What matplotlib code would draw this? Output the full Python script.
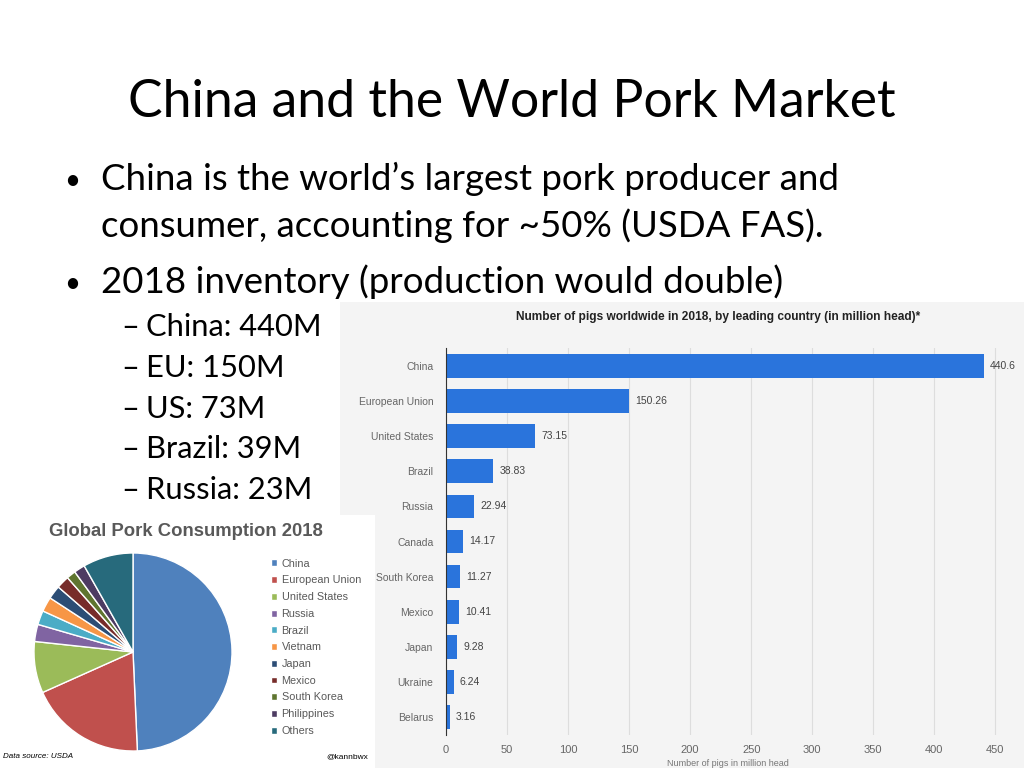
import numpy as np
import matplotlib.pyplot as plt
from matplotlib.patches import Rectangle

# bar chart data (million head)
countries = ["China", "European Union", "United States", "Brazil", "Russia",
             "Canada", "South Korea", "Mexico", "Japan", "Ukraine", "Belarus"]
pigs = [440.6, 150.26, 73.15, 38.83, 22.94, 14.17, 11.27, 10.41, 9.28, 6.24, 3.16]

# pie chart data (share of consumption, %)
pie_labels = ["China", "European Union", "United States", "Russia", "Brazil",
              "Vietnam", "Japan", "Mexico", "South Korea", "Philippines", "Others"]
pie_share = [49.3, 19.0, 8.4, 2.8, 2.3, 2.4, 2.2, 2.1, 1.5, 1.8, 8.2]
pie_colors = ["#4F81BD", "#C0504D", "#9BBB59", "#8064A2", "#4BACC6", "#F79646",
              "#2C4D75", "#772C2A", "#5F7530", "#4D3B62", "#276A7C"]

W, H = 1024, 768
def fx(x): return x / W
def fy(y): return 1 - y / H

fig = plt.figure(figsize=(10.24, 7.68), dpi=100)
fig.patch.set_facecolor("white")

# slide text
slide_font = "Lato"
fig.text(fx(512), fy(117), "China and the World Pork Market", ha="center", va="baseline",
         fontsize=37.3, family=slide_font, color="black")
bullets = [(190, "China is the world\u2019s largest pork producer and", True),
           (237, "consumer, accounting for ~50% (USDA FAS).", False),
           (293, "2018 inventory (production would double)", True)]
for y, txt, dot in bullets:
    if dot:
        fig.text(fx(64), fy(y - 1), "\u2022", ha="left", va="baseline", fontsize=20,
                 family=slide_font)
    fig.text(fx(101), fy(y), txt, ha="left", va="baseline", fontsize=26.4, family=slide_font)

subs = ["China: 440M", "EU: 150M", "US: 73M", "Brazil: 39M", "Russia: 23M"]
for i, s in enumerate(subs):
    y = 336 + i * 40.8
    fig.text(fx(121), fy(y), "\u2013", ha="left", va="baseline", fontsize=22.2, family=slide_font)
    fig.text(fx(146), fy(y), s, ha="left", va="baseline", fontsize=22.2, family=slide_font)

# bar chart background
fig.patches.append(Rectangle((fx(340), 0), 1 - fx(340), fy(302), transform=fig.transFigure,
                             facecolor="#f4f4f4", edgecolor="none", zorder=-2))

ax = fig.add_axes([fx(446), fy(735), fx(1010) - fx(446), fy(348) - fy(735)], zorder=1)
ax.set_facecolor("none")
ypos = np.arange(len(countries))
ax.barh(ypos, pigs, height=0.68, color="#2a74dc", zorder=3)
for yp, v in zip(ypos, pigs):
    ax.annotate(f"{v:g}", (v, yp), xytext=(4.5, 0), textcoords="offset points",
                va="center", ha="left", fontsize=7.5, color="#444444",
                family="Liberation Sans")
ax.set_ylim(10.52, -0.52)
ax.set_xlim(0, 462)
ax.set_xticks(np.arange(0, 451, 50))
ax.set_yticks(ypos)
ax.set_yticklabels(countries, fontsize=7.5, color="#666666", family="Liberation Sans")
for lbl in ax.get_xticklabels():
    lbl.set_fontsize(8)
    lbl.set_color("#666666")
    lbl.set_family("Liberation Sans")
ax.tick_params(length=0, pad=9)
ax.tick_params(axis="x", pad=7)
ax.grid(axis="x", color="#dddddd", linewidth=0.8, zorder=0)
for sp in ["top", "right", "bottom"]:
    ax.spines[sp].set_visible(False)
ax.spines["left"].set_color("#333333")
ax.spines["left"].set_zorder(4)
ax.set_xlabel("Number of pigs in million head", fontsize=6.5, color="#777777",
              family="Liberation Sans", labelpad=3)
fig.text(fx(718), fy(317), "Number of pigs worldwide in 2018, by leading country (in million head)*",
         ha="center", va="center", fontsize=8.6, fontweight="bold", color="#222222",
         family="Liberation Sans")

# pie chart panel
fig.patches.append(Rectangle((0, 0), fx(375), fy(515), transform=fig.transFigure,
                             facecolor="white", edgecolor="none", zorder=1.5))
fig.text(fx(186), fy(531), "Global Pork Consumption 2018", ha="center", va="center",
         fontsize=13.3, fontweight="bold", color="#595959", family="Liberation Sans", zorder=2)
pax = fig.add_axes([fx(33), fy(752), fx(200), fx(200) * W / H], zorder=2)
wedges, _ = pax.pie(pie_share, colors=pie_colors, startangle=90, counterclock=False,
                    wedgeprops=dict(edgecolor="white", linewidth=1))
pax.set_xlim(-1.01, 1.01)
pax.set_ylim(-1.01, 1.01)
pax.set_aspect("equal")
leg = pax.legend(wedges, pie_labels, loc="upper left", bbox_to_anchor=(fx(261), fy(549)),
                 bbox_transform=fig.transFigure, frameon=False, handlelength=0.6,
                 handleheight=0.6, handletextpad=0.4, labelspacing=0.62,
                 prop={"family": "Liberation Sans", "size": 7.8})
for t in leg.get_texts():
    t.set_color("#595959")
fig.text(fx(3), fy(757), "Data source: USDA", ha="left", va="center", fontsize=5.8,
         style="italic", family="Liberation Sans", zorder=2)
fig.text(fx(368), fy(757), "@kannbwx", ha="right", va="center", fontsize=6,
         family="Liberation Sans", zorder=2)

fig.savefig("out.png", dpi=100)
